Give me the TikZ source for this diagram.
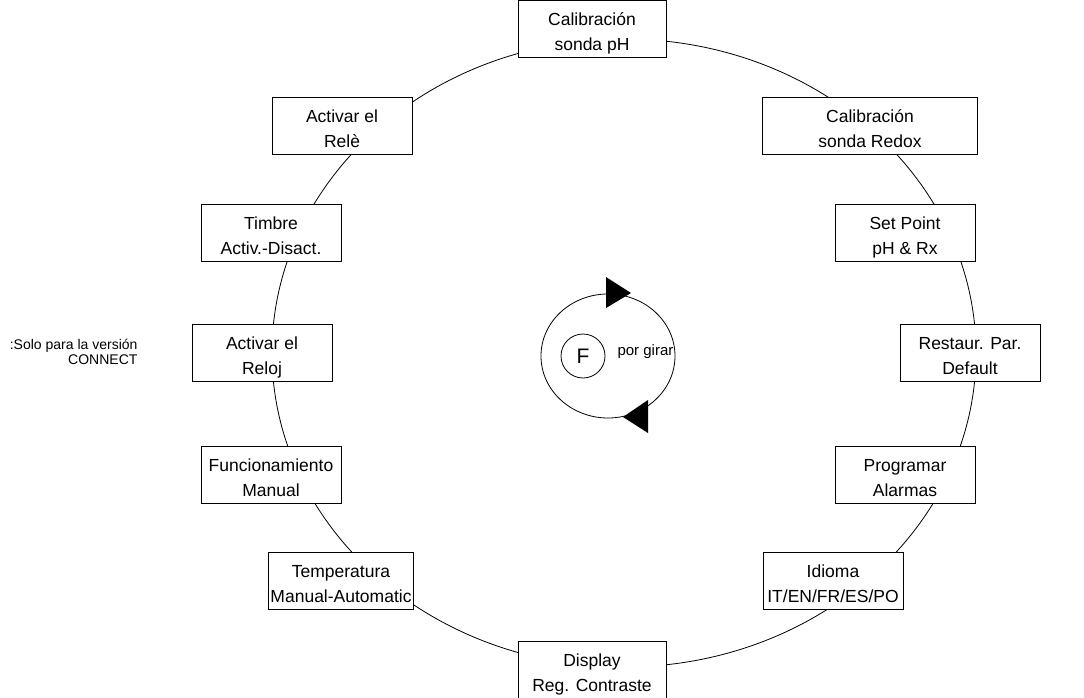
\documentclass[tikz,border=0pt]{standalone}
\usepackage{fontspec}
\setmainfont{Liberation Sans}
\newcommand{\boxtxt}[2]{\raisebox{-4pt}[\height][\depth]{\begin{tabular}{@{}c@{}}#1\\#2\end{tabular}}}
\begin{document}
\begin{tikzpicture}[x=1pt,y=-1pt,
  stepbox/.style={draw,thick,fill=white,minimum width=140pt,minimum height=57pt,align=center,font=\fontsize{17.5}{24.5}\selectfont,inner sep=2pt},
  ring/.style={line width=0.8pt},
  tri/.style={fill=black}]
\useasboundingbox[fill=white] (0,0) rectangle (1084,698);
\draw[ring] (624,353) ellipse [x radius=352, y radius=314];
\node[stepbox,minimum width=148pt] (ph) at (592,29) {\boxtxt{Calibración}{sonda pH}};
\node[stepbox] (rele) at (342,126) {\boxtxt{Activar el}{Relè}};
\node[stepbox,minimum width=215pt] (redox) at (870,126) {\boxtxt{Calibración}{sonda Redox}};
\node[stepbox] (timbre) at (271,233) {\boxtxt{Timbre}{Activ.-Disact.}};
\node[stepbox] (setp) at (905,233) {\boxtxt{Set Point}{pH \& Rx}};
\node[stepbox] (reloj) at (262,353) {\boxtxt{Activar el}{Reloj}};
\node[stepbox] (rest) at (970,353) {\boxtxt{Restaur. Par.}{Default}};
\node[stepbox] (func) at (271,475) {\boxtxt{Funcionamiento}{Manual}};
\node[stepbox] (prog) at (905,475) {\boxtxt{Programar}{Alarmas}};
\node[stepbox] (temp) at (341,581) {\boxtxt{Temperatura}{Manual-Automatic}};
\node[stepbox] (idioma) at (833,581) {\boxtxt{Idioma}{IT/EN/FR/ES/PO}};
\node[stepbox,minimum width=148pt] (disp) at (592,670) {\boxtxt{Display}{Reg. Contraste}};
\node[align=right,anchor=east,font=\fontsize{14}{15.5}\selectfont] (note) at (141,352) {:Solo para la versión\\CONNECT};
\draw[ring] (608,356) ellipse [x radius=67, y radius=62];
\coordinate (t1a) at (606,277);
\coordinate (t1b) at (606,308);
\coordinate (t1c) at (631,293);
\fill[tri] (t1a) -- (t1b) -- (t1c) -- cycle;
\coordinate (t2a) at (648,400);
\coordinate (t2b) at (648,433);
\coordinate (t2c) at (623,417);
\fill[tri] (t2a) -- (t2b) -- (t2c) -- cycle;
\node[draw,circle,minimum size=44pt,inner sep=0pt,line width=0.8pt,font=\fontsize{21}{24}\selectfont] (f) at (583,356) {F};
\node[anchor=west,font=\fontsize{15}{18}\selectfont] (girar) at (614,352) {por girar};
\end{tikzpicture}
\end{document}
